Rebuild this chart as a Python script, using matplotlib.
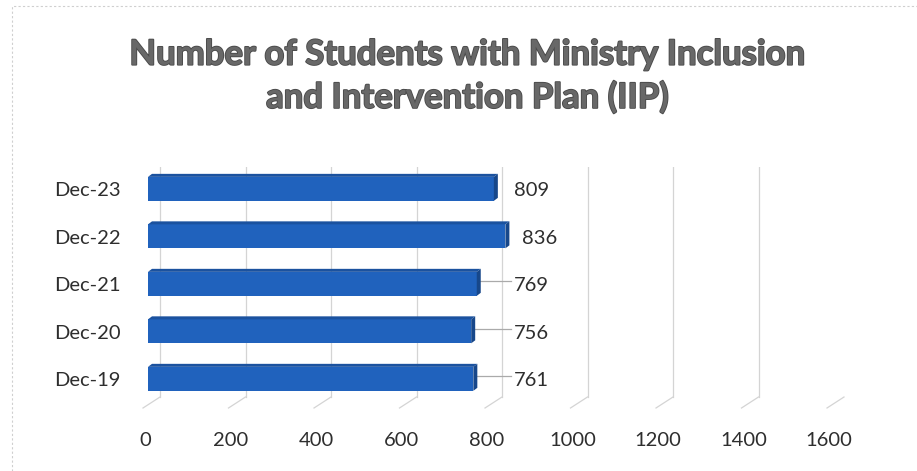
import matplotlib.pyplot as plt
import matplotlib.patheffects as pe
from matplotlib.patches import Polygon
from matplotlib.transforms import offset_copy

# data
periods = ["Dec-19", "Dec-20", "Dec-21", "Dec-22", "Dec-23"]
students = [761, 756, 769, 836, 809]
x_ticks = [0, 200, 400, 600, 800, 1000, 1200, 1400, 1600]

FACE = "#2062bd"
TOP = "#1b529f"
SIDE = "#17478a"
GRID = "#d4d4d4"
TEXT = "#2e2e2e"

plt.rcParams["font.family"] = ["Lato", "DejaVu Sans"]

fig = plt.figure(figsize=(9.17, 4.71), dpi=100)
W, H = 917, 471
# axes in the plane of the bar faces
ax = fig.add_axes([148 / W, 67 / H, 684 / W, 237 / H])
ax.set_xlim(0, 1600)
ax.set_ylim(-0.53, 4.46)
ax.axis("off")

# back wall / front edge offsets in pixels (pseudo 3-D)
back = offset_copy(ax.transData, fig=fig, x=12, y=7, units="dots")
front = offset_copy(ax.transData, fig=fig, x=-5, y=-4, units="dots")
tick_tr = offset_copy(ax.transData, fig=fig, x=-3, y=-36, units="dots")

y0, y1 = ax.get_ylim()
for t in x_ticks:
    ax.plot([t, t], [y0, y1], color=GRID, lw=0.9, transform=back, zorder=1)
    # floor edge running from the back wall to the front
    p_back = back.transform((t, y0))
    p_front = front.transform((t, y0))
    fig.add_artist(plt.Line2D([p_back[0] / W, p_front[0] / W],
                              [p_back[1] / H, p_front[1] / H],
                              color=GRID, lw=0.9, transform=fig.transFigure))
    ax.text(t, y0, str(t), transform=tick_tr,
            ha="center", va="center", fontsize=14.5, color=TEXT)

ypos = list(range(len(periods)))
bar_h = 0.505
ax.barh(ypos, students, height=bar_h, color=FACE, edgecolor="none", zorder=3)

# top and side faces of each bar, offset in display space
dx, dy = 4, 3
for y, v in zip(ypos, students):
    top = y + bar_h / 2
    bot = y - bar_h / 2
    a = ax.transData.transform((0, top))
    b = ax.transData.transform((v, top))
    c = ax.transData.transform((v, bot))
    top_face = [a, (a[0] + dx, a[1] + dy), (b[0] + dx, b[1] + dy), b]
    side_face = [b, (b[0] + dx, b[1] + dy), (c[0] + dx, c[1] + dy), c]
    for pts, col in ((top_face, TOP), (side_face, SIDE)):
        fig.add_artist(Polygon([(px / W, py / H) for px, py in pts], closed=True,
                               facecolor=col, edgecolor="none",
                               transform=fig.transFigure, zorder=4))

# category labels
cat_tr = offset_copy(ax.transData, fig=fig, x=-27, y=-2, units="dots")
for y, name in zip(ypos, periods):
    ax.text(0, y, name, transform=cat_tr,
            ha="right", va="center", fontsize=14.5, color=TEXT)

# value labels, pulled out to a common column with leader lines where needed
val_tr = offset_copy(ax.transData, fig=fig, x=0, y=-2, units="dots")
for y, v in zip(ypos, students):
    lx = max(v + 40, 855)
    ax.text(lx, y, str(v), transform=val_tr,
            ha="left", va="center", fontsize=14.5, color=TEXT, zorder=6)
    if lx - v > 60:
        ax.plot([v + 2, lx - 6], [y + 0.05, y + 0.05], color="#aaaaaa", lw=0.9, zorder=5)

fig.text(0.51, 0.838, "Number of Students with Ministry Inclusion\nand Intervention Plan (IIP)",
         ha="center", va="center", fontsize=25, fontweight="bold", color="#686868",
         linespacing=1.4,
         path_effects=[pe.withStroke(linewidth=1.3, foreground="#4a4a4a")])

# chart border
fig.add_artist(plt.Rectangle((12 / W, -0.1), 1.2, (H - 6) / H + 0.1, fill=False,
                             edgecolor="#cfcfcf", lw=0.8, ls=(0, (2, 2)),
                             transform=fig.transFigure))

fig.savefig("out.png", dpi=100, facecolor="white")
